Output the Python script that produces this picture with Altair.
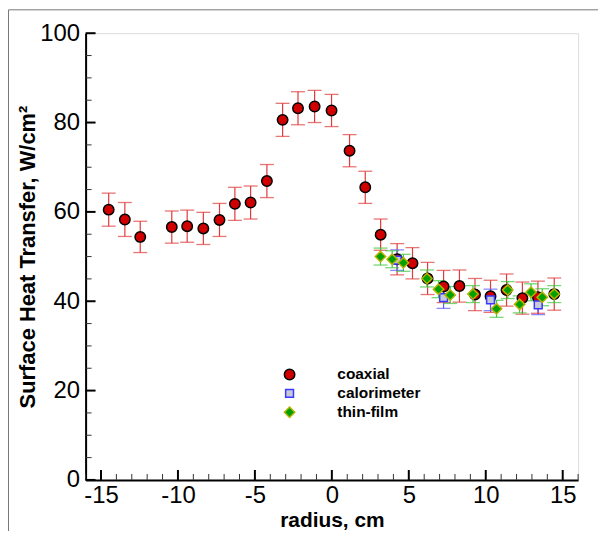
import altair as alt
import pandas as pd

# ---- data ----
coax_x = [-14.5, -13.45, -12.45, -10.4, -9.4, -8.35, -7.3, -6.3, -5.28, -4.22,
          -3.2, -2.2, -1.12, -0.02, 1.15, 2.17, 3.17, 4.24, 5.24, 6.22,
          7.26, 8.29, 9.3, 10.31, 11.35, 12.38, 13.39, 14.45]
coax_y = [60.5, 58.3, 54.4, 56.6, 56.8, 56.3, 58.2, 61.8, 62.1, 66.9,
          80.6, 83.2, 83.6, 82.7, 73.7, 65.5, 54.9, 49.4, 48.5, 45.1,
          43.3, 43.4, 41.5, 41.1, 42.5, 40.7, 40.9, 41.6]
coax_err = [3.7, 3.8, 3.5, 3.6, 3.6, 3.6, 3.7, 3.7, 3.7, 3.7,
            3.7, 3.7, 3.6, 3.6, 3.6, 3.6, 3.5, 3.5, 3.5, 3.6,
            3.6, 3.6, 3.6, 3.6, 3.6, 3.6, 3.6, 3.6]

calor_x = [4.24, 7.26, 10.31, 13.41]
calor_y = [49.2, 40.8, 40.3, 39.2]
calor_err = [2.3, 2.4, 2.4, 2.2]

thin_x = [3.16, 3.92, 4.65, 6.18, 6.93, 7.69, 9.17, 10.7, 11.43, 12.2, 12.94, 13.67, 14.45]
thin_y = [50.0, 49.4, 48.6, 45.1, 42.7, 41.4, 41.6, 38.3, 42.5, 39.3, 42.0, 40.9, 41.6]
thin_err = [1.9, 1.9, 1.9, 1.9, 1.9, 1.9, 1.9, 1.9, 1.9, 1.9, 1.9, 1.9, 1.9]

series_names = ["coaxial", "calorimeter", "thin-film"]
legend_rows = [0, 1, 2]

x_major = [-15, -10, -5, 0, 5, 10, 15]
x_minor = [-16, -14, -13, -12, -11, -9, -8, -7, -6, -4, -3, -2, -1,
           1, 2, 3, 4, 6, 7, 8, 9, 11, 12, 13, 14, 16]
y_major = [0, 20, 40, 60, 80, 100]
y_minor = [5, 10, 15, 25, 30, 35, 45, 50, 55, 65, 70, 75, 85, 90, 95]

# ---- tables ----
rows = []
for name, xs, ys, es in [("coaxial", coax_x, coax_y, coax_err),
                         ("calorimeter", calor_x, calor_y, calor_err),
                         ("thin-film", thin_x, thin_y, thin_err)]:
    for x, y, e in zip(xs, ys, es):
        rows.append({"series": name, "r": x, "q": y, "lo": y - e, "hi": y + e})
df = pd.DataFrame(rows)
legend_df = pd.DataFrame({"series": series_names, "row": legend_rows})

W, H = 495, 449
FONT = "Liberation Sans"
YTITLE = "Surface Heat Transfer, W/cm²"
XTITLE = "radius, cm"
xscale = alt.Scale(domain=[-16, 16], nice=False, zero=False)
yscale = alt.Scale(domain=[0, 100], nice=False, zero=False)

xaxis = alt.Axis(values=x_major, ticks=False, grid=False, domainColor="black",
                 domainWidth=2, labelFont=FONT, labelFontSize=24, labelColor="black",
                 labelPadding=4, labelFlush=False, labelOverlap=False,
                 labelExpr="'' + datum.value",
                 title=XTITLE, titleFont=FONT, titleFontSize=21,
                 titleFontWeight="bold", titleColor="black", titlePadding=2)
yaxis = alt.Axis(values=y_major, ticks=False, grid=False, domainColor="black",
                 domainWidth=2, labelFont=FONT, labelFontSize=24, labelColor="black",
                 labelPadding=6, labelFlush=False, labelOverlap=False,
                 labelExpr="'' + datum.value",
                 title=YTITLE, titleFont=FONT,
                 titleFontSize=22, titleFontWeight="bold", titleColor="black",
                 titlePadding=0)

def X(field):
    return alt.X(f"{field}:Q", scale=xscale, axis=xaxis, title=XTITLE)

def Y(field):
    return alt.Y(f"{field}:Q", scale=yscale, axis=yaxis, title=YTITLE)

# marker style of each series
styles = {
    "coaxial":     dict(shape="circle",  fill="#d00000", stroke="#000000", size=110),
    "calorimeter": dict(shape="square",  fill="#c8c8d8", stroke="#3a3aff", size=62),
    "thin-film":   dict(shape="diamond", fill="#00a000", stroke="#b4b400", size=110),
}

# frame lines of the original figure
frame_left = alt.Chart(alt.Data(values=[{}])).mark_rule(color="#777777", strokeWidth=1).encode(
    x=alt.value(-77.5), y=alt.value(-23.5), y2=alt.value(H + 60))
frame_top = alt.Chart(alt.Data(values=[{}])).mark_rule(color="#777777", strokeWidth=1).encode(
    x=alt.value(-77.5), x2=alt.value(W + 30), y=alt.value(-23.5))

# inward ticks
xt_major = alt.Chart(pd.DataFrame({"r": x_major})).mark_rule(color="black", strokeWidth=2).encode(
    x=X("r"), y=alt.value(H), y2=alt.value(H - 10))
xt_minor = alt.Chart(pd.DataFrame({"r": x_minor})).mark_rule(color="#333333", strokeWidth=1).encode(
    x=X("r"), y=alt.value(H), y2=alt.value(H - 6))
yt_major = alt.Chart(pd.DataFrame({"q": y_major})).mark_rule(color="black", strokeWidth=2).encode(
    y=Y("q"), x=alt.value(0), x2=alt.value(10))
yt_minor = alt.Chart(pd.DataFrame({"q": y_minor})).mark_rule(color="#333333", strokeWidth=1).encode(
    y=Y("q"), x=alt.value(0), x2=alt.value(6))

err_color = alt.Color("series:N", scale=alt.Scale(domain=series_names,
                      range=["#e03a3a", "#5a5aff", "#3cc83c"]), legend=None)

err_lines = alt.Chart(df).mark_rule(strokeWidth=1.2).encode(
    x=X("r"), y=Y("lo"), y2="hi", color=err_color)
err_lo = alt.Chart(df).mark_tick(orient="horizontal", size=14, thickness=1.3).encode(
    x=X("r"), y=Y("lo"), color=err_color)
err_hi = alt.Chart(df).mark_tick(orient="horizontal", size=14, thickness=1.3).encode(
    x=X("r"), y=Y("hi"), color=err_color)

point_layers = []
for name in series_names:
    st = styles[name]
    point_layers.append(
        alt.Chart(df).transform_filter(alt.datum.series == name)
        .mark_point(filled=True, opacity=1, strokeWidth=1.5, shape=st["shape"],
                    fill=st["fill"], stroke=st["stroke"], size=st["size"])
        .encode(x=X("r"), y=Y("q"))
    )

main = alt.layer(frame_left, frame_top, xt_minor, xt_major, yt_minor, yt_major,
                 err_lines, err_lo, err_hi, *point_layers)

# legend block (its own row scale)
ly = alt.Y("row:Q", scale=alt.Scale(domain=[0, 2], range=[343, 381]), axis=None)
leg_layers = []
for name in series_names:
    st = styles[name]
    leg_layers.append(
        alt.Chart(legend_df).transform_filter(alt.datum.series == name)
        .mark_point(filled=True, opacity=1, strokeWidth=1.5, shape=st["shape"],
                    fill=st["fill"], stroke=st["stroke"], size=st["size"])
        .encode(x=alt.value(205), y=ly)
    )
leg_txt = alt.Chart(legend_df).mark_text(align="left", baseline="middle", font=FONT,
                                         fontSize=15.5, fontWeight="bold", color="black").encode(
    x=alt.value(253), y=ly, text="series:N")
legend_block = alt.layer(*leg_layers, leg_txt)

chart = alt.layer(main, legend_block).resolve_scale(y="independent").properties(
    width=W, height=H,
    autosize=alt.AutoSizeParams(type="none"),
    padding={"left": 78, "top": 24, "right": 20, "bottom": 50},
).configure_view(stroke=None).configure(background="white")

chart.save("out.html", embed_options={"renderer": "svg", "actions": False})
